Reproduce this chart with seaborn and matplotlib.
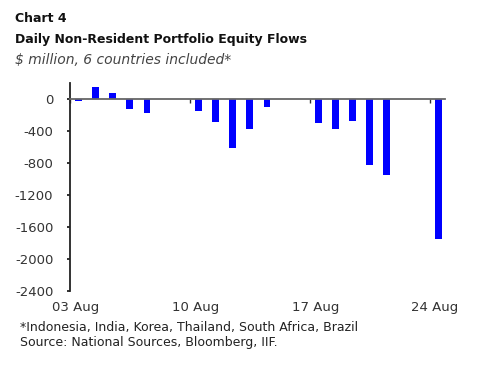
import pandas as pd
import matplotlib.pyplot as plt
import seaborn as sns

# daily flows, $ million (weekdays only)
dates = ["2015-08-03", "2015-08-04", "2015-08-05", "2015-08-06", "2015-08-07",
         "2015-08-10", "2015-08-11", "2015-08-12", "2015-08-13", "2015-08-14",
         "2015-08-17", "2015-08-18", "2015-08-19", "2015-08-20", "2015-08-21",
         "2015-08-24"]
flows = [-30, 150, 80, -125, -170,
         -150, -285, -615, -375, -100,
         -295, -370, -270, -830, -950,
         -1755]
tick_dates = ["2015-08-03", "2015-08-10", "2015-08-17", "2015-08-24"]
tick_labels = ["03 Aug", "10 Aug", "17 Aug", "24 Aug"]
y_ticks = [0, -400, -800, -1200, -1600, -2000, -2400]

start = pd.Timestamp(dates[0])
df = pd.DataFrame({"date": pd.to_datetime(dates), "flow": flows})
df["x"] = (df["date"] - start).dt.days + 0.5
tick_x = [(pd.Timestamp(d) - start).days for d in tick_dates]

sns.set_style("white")
plt.rcParams["font.family"] = ["DejaVu Sans"]

fig = plt.figure(figsize=(4.88, 3.66), dpi=100)
ax = fig.add_axes([0.1434, 0.205, 0.912 - 0.1434, 0.568])

sns.barplot(data=df, x="x", y="flow", native_scale=True, width=0.4,
            color="#0000FF", saturation=1, linewidth=0, edgecolor="none", ax=ax)

ax.set_xlim(0, 21.9)
ax.set_ylim(-2400, 200)
ax.set_yticks(y_ticks)
ax.set_yticklabels([str(v) for v in y_ticks])
ax.set_xlabel("")
ax.set_ylabel("")

for s in ["top", "right"]:
    ax.spines[s].set_visible(False)
ax.spines["left"].set_color("#222222")
ax.spines["left"].set_linewidth(1.3)
ax.spines["bottom"].set_position(("data", 0))
ax.spines["bottom"].set_color("#666666")
ax.spines["bottom"].set_linewidth(1.3)
ax.set_xticks(tick_x)
ax.tick_params(axis="x", direction="out", length=3, width=1, color="#333333",
               bottom=True, labelbottom=False)
ax.tick_params(axis="y", direction="out", length=2.5, width=1.3, color="#222222",
               labelsize=9.5, labelcolor="#333333", pad=9.5, left=True)

sec = ax.secondary_xaxis("bottom")
sec.spines["bottom"].set_visible(False)
sec.set_xticks([t + 0.32 for t in tick_x])
sec.set_xticklabels(tick_labels)
sec.tick_params(length=0, labelsize=9.5, labelcolor="#333333", pad=7)

fig.text(0.031, 0.95, "Chart 4", fontsize=9, fontweight="bold", va="center", color="#111111")
fig.text(0.031, 0.893, "Daily Non-Resident Portfolio Equity Flows", fontsize=9,
         fontweight="bold", va="center", color="#111111")
fig.text(0.031, 0.836, "$ million, 6 countries included*", fontsize=10, style="italic",
         va="center", color="#444444")
fig.text(0.041, 0.105, "*Indonesia, India, Korea, Thailand, South Africa, Brazil",
         fontsize=9, va="center", color="#222222")
fig.text(0.041, 0.063, "Source: National Sources, Bloomberg, IIF.",
         fontsize=9, va="center", color="#222222")

fig.savefig("out.png", dpi=100)
